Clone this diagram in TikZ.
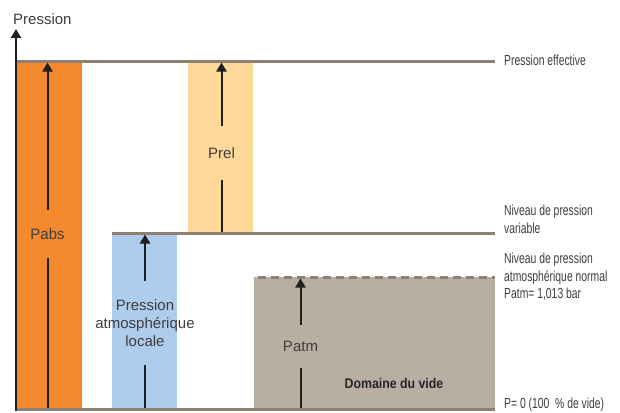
\documentclass[tikz,border=0pt]{standalone}
\usepackage{fontspec}
\setmainfont{Liberation Sans}
\newfontfamily\narrowfont[FakeStretch=0.71]{Liberation Sans}
\newfontfamily\narrowbold[FakeStretch=0.88]{Liberation Sans}
\usetikzlibrary{arrows.meta}

\definecolor{absorange}{HTML}{F4892E}
\definecolor{relorange}{HTML}{FDD899}
\definecolor{locblue}{HTML}{AECCEB}
\definecolor{videgray}{HTML}{B8AFA2}
\definecolor{levelgray}{HTML}{8E8172}
\definecolor{labelgray}{HTML}{3D3D3D}

\begin{document}
\begin{tikzpicture}[x=1pt,y=-1pt,
    level/.style={draw=levelgray,line width=3pt},
    bartext/.style={text=labelgray,font=\fontsize{15}{18}\selectfont,align=center,inner xsep=0pt,inner ysep=18pt},
    sidetext/.style={anchor=west,text=labelgray,font=\narrowfont\fontsize{14.6}{17.5}\selectfont,align=left,inner sep=0pt},
    stem/.style={draw=black!88,line width=2pt},
    uparrow/.style={stem,-{Triangle[length=9pt,width=10pt]}}]
    \useasboundingbox (0,0) rectangle (620,412);

    \fill[absorange] (17,62) rectangle (82,408);
    \fill[relorange] (188,62) rectangle (253,232);
    \fill[locblue] (112,234) rectangle (177,408);
    \fill[videgray] (254,277) rectangle (495,408);

    \coordinate (eff west) at (15,61);
    \coordinate (eff east) at (495,61);
    \coordinate (var west) at (112,233);
    \coordinate (var east) at (495,233);
    \coordinate (atm west) at (254,277);
    \coordinate (atm east) at (495,277);
    \coordinate (zero west) at (15,409.5);
    \coordinate (zero east) at (495,409.5);

    \draw[level] (eff west) -- (eff east);
    \draw[level] (var west) -- (var east);
    \draw[level,dash pattern=on 8pt off 5pt,dash phase=-4pt] (atm west) -- (atm east);
    \draw[level] (zero west) -- (zero east);

    \coordinate (axis bot) at (16,411);
    \coordinate (axis top) at (16,29);
    \draw[uparrow] (axis bot) -- (axis top);
    \node (axis lab) at (13,19) [anchor=west,text=labelgray,font=\fontsize{15}{18}\selectfont,inner sep=0pt] {Pression};

    \node (eff lab) at (504,60) [sidetext] {Pression effective};
    \node (var lab) at (504,219.5) [sidetext] {Niveau de pression\\variable};
    \node (atm lab) at (504,277) [sidetext] {Niveau de pression\\atmosph\'erique normal\\Patm= 1,013 bar};
    \node (zero lab) at (504,405) [sidetext] {P= 0 (100~~\% de vide)};

    \node (pabs) at (47.5,234) [bartext,inner ysep=18.5pt] {Pabs};
    \coordinate (pabs bot) at (47.5,408);
    \coordinate (pabs top) at (47.5,62.5);
    \draw[stem] (pabs bot) -- (pabs.south);
    \draw[uparrow] (pabs.north) -- (pabs top);

    \node (prel) at (221.5,153) [bartext,inner ysep=21pt] {Prel};
    \coordinate (prel bot) at (221.5,232);
    \coordinate (prel top) at (221.5,62.5);
    \draw[stem] (prel bot) -- (prel.south);
    \draw[uparrow] (prel.north) -- (prel top);

    \node (ploc) at (145,323) [bartext] {Pression\\atmosph\'erique\\locale};
    \coordinate (ploc bot) at (145,408);
    \coordinate (ploc top) at (145,234.5);
    \draw[stem] (ploc bot) -- (ploc.south);
    \draw[uparrow] (ploc.north) -- (ploc top);

    \node (patm) at (300.5,346.5) [bartext,inner ysep=16pt] {Patm};
    \coordinate (patm bot) at (300.5,408);
    \coordinate (patm top) at (300.5,278.5);
    \draw[stem] (patm bot) -- (patm.south);
    \draw[uparrow] (patm.north) -- (patm top);

    \node (vide) at (394,383) [text=black!85,font=\narrowbold\bfseries\fontsize{14}{17}\selectfont,inner sep=0pt] {Domaine du vide};
\end{tikzpicture}
\end{document}
